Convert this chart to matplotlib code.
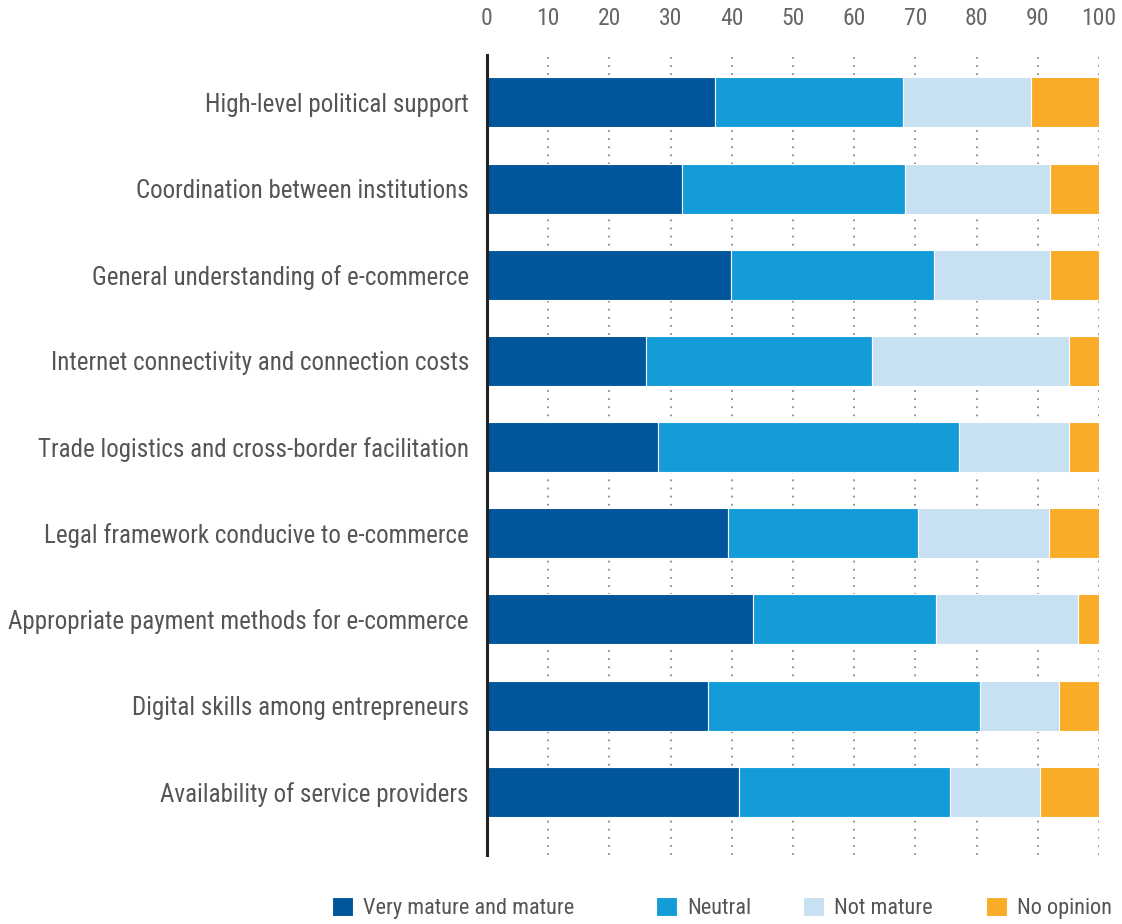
import numpy as np
import matplotlib
matplotlib.use("Agg")
import matplotlib.pyplot as plt
from matplotlib import font_manager

# pick a narrow sans face if one is installed
available = {f.name for f in font_manager.fontManager.ttflist}
family = [f for f in ["Liberation Sans Narrow", "Roboto Condensed", "Roboto"] if f in available]
plt.rcParams["font.family"] = family + ["DejaVu Sans"]

categories = [
    "High-level political support",
    "Coordination between institutions",
    "General understanding of e-commerce",
    "Internet connectivity and connection costs",
    "Trade logistics and cross-border facilitation",
    "Legal framework conducive to e-commerce",
    "Appropriate payment methods for e-commerce",
    "Digital skills among entrepreneurs",
    "Availability of service providers",
]
very_mature = [37.3, 31.8, 39.9, 26.0, 27.9, 39.4, 43.5, 36.1, 41.2]
neutral = [30.6, 36.5, 33.1, 36.9, 49.2, 31.1, 29.9, 44.4, 34.4]
not_mature = [21.0, 23.7, 19.0, 32.2, 18.0, 21.3, 23.2, 13.0, 14.8]
no_opinion = [11.1, 8.0, 8.0, 4.9, 4.9, 8.2, 3.4, 6.5, 9.6]

series = [
    ("Very mature and mature", very_mature, "#00559b"),
    ("Neutral", neutral, "#149cd8"),
    ("Not mature", not_mature, "#c7e1f3"),
    ("No opinion", no_opinion, "#f9ac28"),
]
ticks = [0, 10, 20, 30, 40, 50, 60, 70, 80, 90, 100]

fig = plt.figure(figsize=(11.22, 9.24), dpi=100)
ax = fig.add_axes([0.434, 0.075, 0.5455, 0.865])

y = np.arange(len(categories))
left = np.zeros(len(categories))
for name, vals, col in series:
    ax.barh(y, vals, left=left, height=0.58, color=col, edgecolor="white",
            linewidth=0.8, label=name, zorder=2)
    left += np.array(vals)

# dotted vertical guides
for t in ticks[1:]:
    ax.axvline(t, color="#8a8a8a", linestyle=(0, (1, 3.5)), linewidth=1.3, zorder=1)

ax.set_xlim(0, 100)
ax.set_ylim(8.73, -0.545)
ax.set_yticks(y)
ax.set_yticklabels(categories, fontsize=18, color="#555555")
ax.set_xticks(ticks)
ax.xaxis.tick_top()
ax.tick_params(axis="x", length=0, labelsize=17, labelcolor="#666666", pad=18)
ax.tick_params(axis="y", length=0, pad=13)

for s in ["top", "right", "bottom"]:
    ax.spines[s].set_visible(False)
ax.spines["left"].set_linewidth(2.2)
ax.spines["left"].set_color("#222222")

# legend entries spread along the bottom, one small legend each
handles, labels = ax.get_legend_handles_labels()
legend_x = [0.296, 0.585, 0.716, 0.879]
for h, lab, lx in zip(handles, labels, legend_x):
    leg = fig.legend([h], [lab], loc="center left", bbox_to_anchor=(lx, 0.017),
                     frameon=False, fontsize=16, handlelength=0.95, handleheight=0.95,
                     handletextpad=0.45, borderpad=0, borderaxespad=0)
    for t in leg.get_texts():
        t.set_color("#555555")

fig.savefig("out.png", dpi=100)
